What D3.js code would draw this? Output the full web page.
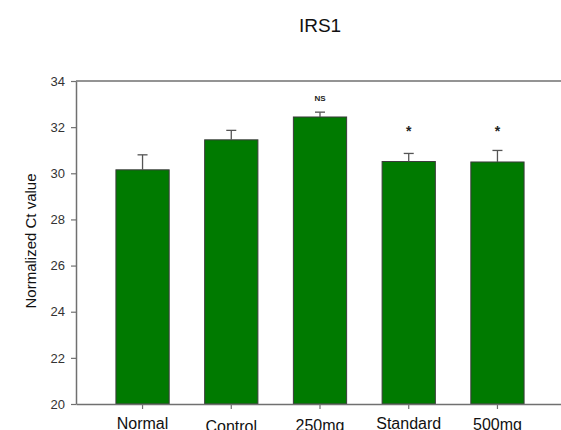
<!DOCTYPE html>
<html>
<head>
<meta charset="utf-8">
<script src="https://cdn.jsdelivr.net/npm/d3@7/dist/d3.min.js"></script>
<style>
  html, body { margin: 0; padding: 0; background: #fff; }
  svg { display: block; font-family: "Liberation Sans", Arial, sans-serif; }
</style>
</head>
<body>
<svg id="chart" width="561" height="430"></svg>
<script>
// IRS1 expression: mean normalized Ct per group with SEM
const categories = ["Normal", "Control", "250mg", "Standard", "500mg"];
const means = [30.15, 31.45, 32.44, 30.51, 30.49];
const errors = [0.65, 0.41, 0.21, 0.35, 0.50];
const marks = ["", "", "NS", "*", "*"];
const yTicks = [20, 22, 24, 26, 28, 30, 32, 34];

const svg = d3.select("#chart");
const plotLeft = 76, plotRight = 564, plotTop = 81, plotBottom = 404;
const axisColor = "#707070";

const x = d3.scaleBand().domain(categories).range([plotLeft, plotRight])
  .paddingInner(0.4).paddingOuter(0.45);
const y = d3.scaleLinear().domain([20, 34]).range([plotBottom, plotTop]);

// title
svg.append("text").attr("x", 320).attr("y", 32).attr("text-anchor", "middle")
  .attr("font-size", 19).attr("fill", "#111").text("IRS1");

// bars
svg.append("g").selectAll("rect").data(categories).join("rect")
  .attr("x", d => x(d))
  .attr("width", x.bandwidth())
  .attr("y", (d, i) => y(means[i]))
  .attr("height", (d, i) => y(20) - y(means[i]))
  .attr("fill", "#007a00")
  .attr("stroke", "#3a3a3a")
  .attr("stroke-width", 1);

// error bars (upper only)
const eb = svg.append("g").attr("stroke", "#555").attr("stroke-width", 1.3).attr("fill", "none");
categories.forEach((c, i) => {
  const cx = x(c) + x.bandwidth() / 2;
  eb.append("line").attr("x1", cx).attr("x2", cx)
    .attr("y1", y(means[i])).attr("y2", y(means[i] + errors[i]));
  eb.append("line").attr("x1", cx - 5).attr("x2", cx + 5)
    .attr("y1", y(means[i] + errors[i])).attr("y2", y(means[i] + errors[i]));
});

// significance marks
categories.forEach((c, i) => {
  if (!marks[i]) return;
  const cx = x(c) + x.bandwidth() / 2;
  const capY = y(means[i] + errors[i]);
  if (marks[i] === "NS") {
    svg.append("text").attr("x", cx).attr("y", capY - 11).attr("text-anchor", "middle")
      .attr("font-size", 8).attr("font-weight", "bold").attr("fill", "#222").text("NS");
  } else {
    svg.append("text").attr("x", cx).attr("y", 136).attr("text-anchor", "middle")
      .attr("font-size", 14).attr("font-weight", "bold").attr("fill", "#222").text("*");
  }
});

// top frame line
svg.append("line").attr("x1", plotLeft).attr("x2", plotRight).attr("y1", plotTop).attr("y2", plotTop)
  .attr("stroke", axisColor).attr("stroke-width", 1.5);

// y axis
const yAxis = svg.append("g").attr("transform", `translate(${plotLeft},0)`)
  .call(d3.axisLeft(y).tickValues(yTicks).tickSize(5).tickSizeOuter(0).tickPadding(6));
yAxis.select(".domain").attr("stroke", axisColor).attr("stroke-width", 1.5);
yAxis.selectAll(".tick line").attr("stroke", axisColor).attr("stroke-width", 1.2);
yAxis.selectAll(".tick text").attr("font-size", 13).attr("fill", "#333")
  .attr("font-family", "Liberation Sans, Arial, sans-serif");

// x axis
const xAxis = svg.append("g").attr("transform", `translate(0,${plotBottom})`)
  .call(d3.axisBottom(x).tickSize(5).tickSizeOuter(0).tickFormat(""));
xAxis.select(".domain").attr("stroke", axisColor).attr("stroke-width", 1.5);
xAxis.selectAll(".tick line").attr("stroke", axisColor).attr("stroke-width", 1.2);

// category labels (slightly staggered baselines)
const labelBase = [428.5, 431.5, 430.5, 429, 430];
svg.append("g").selectAll("text").data(categories).join("text")
  .attr("x", d => x(d) + x.bandwidth() / 2)
  .attr("y", (d, i) => labelBase[i])
  .attr("text-anchor", "middle").attr("font-size", 16).attr("fill", "#111")
  .text(d => d);

// y axis title
svg.append("text").attr("transform", "translate(36,241) rotate(-90)")
  .attr("text-anchor", "middle").attr("font-size", 15).attr("fill", "#111")
  .text("Normalized Ct value");
</script>
</body>
</html>
